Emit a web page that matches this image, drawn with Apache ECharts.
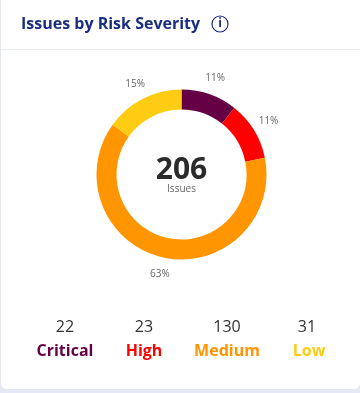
<!DOCTYPE html>
<html>
<head>
<meta charset="utf-8">
<style>
    html, body { margin: 0; padding: 0; background: #e6e9f5; }
    #main { width: 360px; height: 393px; }
</style>
<script src="https://cdn.jsdelivr.net/npm/echarts@6/dist/echarts.min.js"></script>
</head>
<body>
<div id="main"></div>
<script>
var categories = ['Critical', 'High', 'Medium', 'Low'];
var values = [22, 23, 130, 31];
var colors = ['#660044', '#ff0000', '#ff9500', '#ffcc14'];
var valueX = [65, 144, 227, 307];
var nameX = [65, 144, 227, 309];
var total = 206;

var font = '"Open Sans", "Noto Sans", sans-serif';
var center = [181.5, 174.5];

var pieData = categories.map(function (name, i) {
    return { name: name, value: values[i], itemStyle: { color: colors[i] } };
});

// 底部图例：数值 + 名称
var legendTexts = [];
categories.forEach(function (name, i) {
    legendTexts.push({
        type: 'text', x: valueX[i], y: 327,
        style: { text: String(values[i]), font: '400 16px ' + font, fill: '#333333', align: 'center', verticalAlign: 'middle' }
    });
    legendTexts.push({
        type: 'text', x: nameX[i], y: 351,
        style: { text: name, font: '700 16px ' + font, fill: colors[i], align: 'center', verticalAlign: 'middle' }
    });
});

var option = {
    animation: false,
    backgroundColor: '#e6e9f5',
    graphic: [
        { type: 'rect', z: 0, shape: { x: 1, y: -10, width: 359, height: 399, r: 6 }, style: { fill: '#ffffff' } },
        { type: 'rect', z: 1, shape: { x: 1, y: 49, width: 359, height: 1 }, style: { fill: '#e8eaf2' } },
        {
            type: 'text', z: 2, x: 21, y: 24,
            style: { text: 'Issues by Risk Severity', font: '700 16px ' + font, fill: '#1a2e80', verticalAlign: 'middle' }
        },
        { type: 'circle', z: 2, shape: { cx: 220, cy: 24, r: 8 }, style: { fill: 'none', stroke: '#1a2e80', lineWidth: 1.2 } },
        {
            type: 'text', z: 2, x: 220, y: 24,
            style: { text: 'i', font: '700 12px ' + font, fill: '#1a2e80', align: 'center', verticalAlign: 'middle' }
        },
        {
            type: 'text', z: 5, x: center[0], y: 170,
            style: { text: String(total), font: '700 30px ' + font, fill: '#2b2b2b', align: 'center', verticalAlign: 'middle' }
        },
        {
            type: 'text', z: 5, x: center[0], y: 189,
            style: { text: 'Issues', font: '400 10px ' + font, fill: '#666666', align: 'center', verticalAlign: 'middle' }
        }
    ].concat(legendTexts),
    series: [
        {
            type: 'pie',
            center: center,
            radius: [65, 85],
            startAngle: 90,
            silent: true,
            label: { show: false },
            labelLine: { show: false },
            data: pieData
        },
        {
            // 透明的一圈，只用来放百分比标签
            type: 'pie',
            center: center,
            radius: [97, 101],
            startAngle: 90,
            silent: true,
            percentPrecision: 0,
            itemStyle: { color: 'transparent' },
            label: {
                show: true,
                position: 'inside',
                formatter: '{d}%',
                fontFamily: font,
                fontSize: 10,
                color: '#666666'
            },
            labelLine: { show: false },
            data: categories.map(function (name, i) {
                return { name: name, value: values[i], itemStyle: { color: 'transparent' } };
            })
        }
    ]
};

var myChart = echarts.init(document.getElementById('main'));
myChart.setOption(option);
</script>
</body>
</html>
